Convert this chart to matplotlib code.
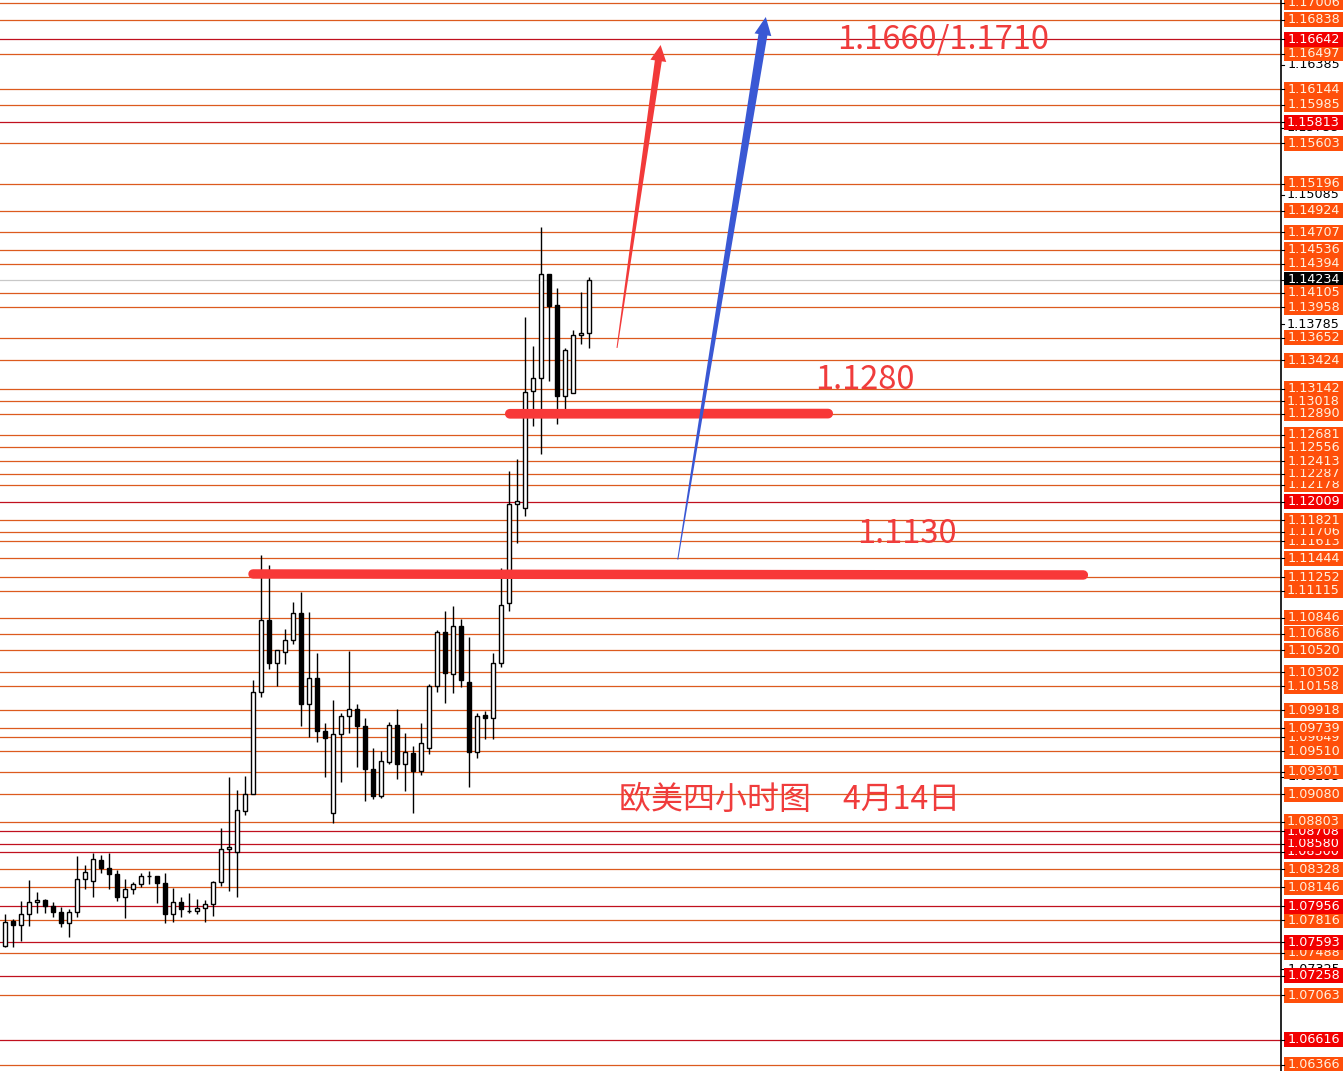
import numpy as np
import matplotlib
matplotlib.use("Agg")
import matplotlib.pyplot as plt
from matplotlib.patches import Rectangle, Polygon
from matplotlib.transforms import IdentityTransform

plt.rcParams['font.family'] = ['Noto Sans CJK SC', 'DejaVu Sans']

# ---------------- data (EURUSD 4H candles) ----------------
opens = [1.0756,1.0781,1.0777,1.0788,1.0800,1.0802,1.0796,1.0790,1.0779,1.0790,
         1.0823,1.0821,1.0842,1.0834,1.0828,1.0805,1.0813,1.0818,1.0826,1.0826,
         1.0819,1.0788,1.0800,1.0791,1.0791,1.0794,1.0798,1.0820,1.0853,1.0850,
         1.0891,1.0908,1.1010,1.1082,1.1039,1.1050,1.1062,1.1089,1.0998,1.1024,
         1.0971,1.0889,1.0968,1.0986,1.0993,1.0976,1.0933,1.0906,1.0940,1.0977,
         1.0938,1.0949,1.0931,1.0954,1.1016,1.1070,1.1028,1.1076,1.1020,1.0950,
         1.0987,1.0984,1.1039,1.1099,1.1199,1.1195,1.1312,1.1325,1.1429,1.1398,
         1.1307,1.1310,1.1368,1.1370]
highs = [1.0788,1.0783,1.0801,1.0822,1.0810,1.0803,1.0800,1.0795,1.0793,1.0846,
         1.0837,1.0849,1.0847,1.0849,1.0832,1.0823,1.0820,1.0829,1.0831,1.0826,
         1.0829,1.0814,1.0805,1.0809,1.0803,1.0802,1.0821,1.0874,1.0925,1.0912,
         1.0926,1.1022,1.1148,1.1137,1.1052,1.1073,1.1100,1.1110,1.1090,1.1049,
         1.0979,1.1002,1.0989,1.1051,1.0998,1.0984,1.0954,1.0951,1.0980,1.0993,
         1.0969,1.0956,1.0979,1.1018,1.1072,1.1091,1.1096,1.1083,1.1065,1.0989,
         1.0991,1.1049,1.1134,1.1232,1.1244,1.1386,1.1357,1.1476,1.1429,1.1415,
         1.1355,1.1373,1.1411,1.1426]
lows = [1.0755,1.0755,1.0761,1.0776,1.0789,1.0789,1.0785,1.0775,1.0765,1.0785,
        1.0813,1.0805,1.0829,1.0813,1.0801,1.0784,1.0808,1.0815,1.0818,1.0799,
        1.0779,1.0780,1.0785,1.0789,1.0788,1.0780,1.0786,1.0816,1.0811,1.0805,
        1.0887,1.0908,1.1005,1.1033,1.1016,1.1038,1.1058,1.0976,1.0965,1.0960,
        1.0925,1.0879,1.0920,1.0969,1.0935,1.0901,1.0903,1.0904,1.0938,1.0923,
        1.0911,1.0889,1.0927,1.0948,1.1010,1.0999,1.1009,1.1015,1.0915,1.0944,
        1.0963,1.0963,1.1035,1.1091,1.1160,1.1187,1.1277,1.1249,1.1322,1.1279,
        1.1293,1.1310,1.1359,1.1355]
closes = [1.0780,1.0777,1.0788,1.0800,1.0802,1.0796,1.0790,1.0779,1.0790,1.0823,
          1.0830,1.0843,1.0834,1.0828,1.0805,1.0813,1.0818,1.0826,1.0826,1.0819,
          1.0788,1.0800,1.0793,1.0791,1.0794,1.0798,1.0820,1.0853,1.0855,1.0892,
          1.0908,1.1010,1.1082,1.1039,1.1052,1.1062,1.1089,1.0998,1.1024,1.0971,
          1.0964,1.0968,1.0986,1.0993,1.0976,1.0933,1.0906,1.0941,1.0977,1.0938,
          1.0950,1.0931,1.0959,1.1016,1.1070,1.1029,1.1076,1.1022,1.0950,1.0986,
          1.0984,1.1039,1.1097,1.1199,1.1202,1.1311,1.1325,1.1429,1.1397,1.1307,
          1.1353,1.1368,1.1370,1.1423]

# price levels on the right axis: 'o' orange, 'r' red, 'w' plain, 'k' current price
level_prices = [1.17006,1.16838,1.16642,1.16497,1.16385,1.16144,1.15985,1.15813,1.15755,1.15603,
                1.15196,1.15085,1.14924,1.14707,1.14536,1.14394,1.14234,1.14105,1.13958,1.13785,
                1.13652,1.13424,1.13142,1.13018,1.12890,1.12681,1.12556,1.12413,1.12287,1.12178,
                1.12009,1.11821,1.11706,1.11613,1.11444,1.11252,1.11115,1.10846,1.10686,1.10520,
                1.10302,1.10158,1.09918,1.09739,1.09649,1.09510,1.09301,1.09255,1.09080,1.08803,
                1.08708,1.08580,1.08500,1.08328,1.08146,1.07956,1.07816,1.07593,1.07488,1.07325,
                1.07258,1.07063,1.06616,1.06366]
level_kinds = ['o','o','r','o','w','o','o','r','w','o',
               'o','w','o','o','o','o','k','o','o','w',
               'o','o','o','o','o','o','o','o','o','o',
               'r','o','o','o','o','o','o','o','o','o',
               'o','o','o','o','o','o','o','w','o','o',
               'r','r','r','o','o','r','o','r','o','w',
               'r','o','r','o']

# hand-drawn annotations
support_levels = [1.1289, 1.1128]
support_labels = ["1.1280", "1.1130"]
target_label = "1.1660/1.1710"
title_text = "欧美四小时图\u30004月14日"

# ---------------- figure ----------------
W, H = 1343, 1071
fig = plt.figure(figsize=(W/100, H/100), dpi=100)
ax_right_px = 1281
ax = fig.add_axes([0, 0, ax_right_px/W, 1])
ymin, ymax = 1.06305, 1.17036
xmin, xmax = -0.625, 159.5
ax.set_ylim(ymin, ymax)
ax.set_xlim(xmin, xmax)
for s in ['top', 'left', 'bottom']:
    ax.spines[s].set_visible(False)
ax.spines['right'].set_color('black')
ax.spines['right'].set_linewidth(1.2)
ax.set_xticks([])
ax.set_yticks([])

ORANGE_LINE = '#dc5a1e'
RED_LINE = '#c0101e'
ORANGE_BG = '#ff4f0a'
RED_BG = '#f20000'

# horizontal level lines
for p, k in zip(level_prices, level_kinds):
    if k == 'o':
        ax.axhline(p, color=ORANGE_LINE, lw=0.9, zorder=1)
    elif k == 'r':
        ax.axhline(p, color=RED_LINE, lw=0.9, zorder=1)
    elif k == 'k':
        ax.axhline(p, color='#c8c8c8', lw=0.9, zorder=1)

# candles
x = np.arange(len(opens))
bw = 0.6
for i in range(len(opens)):
    o, h, l, c = opens[i], highs[i], lows[i], closes[i]
    ax.plot([x[i], x[i]], [l, h], color='black', lw=1.0, zorder=3,
            solid_capstyle='butt')
    bottom = min(o, c)
    height = max(abs(c - o), 0.00003)
    fc = 'white' if c >= o else 'black'
    ax.add_patch(Rectangle((x[i] - bw/2, bottom), bw, height, facecolor=fc,
                           edgecolor='black', lw=1.0, zorder=4))

# right-side price labels (drawn bottom to top so upper ones overlap)
trans = ax.get_yaxis_transform()
x0 = 1 + 3/ax_right_px
x1 = W/ax_right_px
box_h = 0.00150
order = np.argsort(level_prices)
for j in order:
    p, k = level_prices[j], level_kinds[j]
    if k == 'o':
        bg, tc = ORANGE_BG, '#fff2e0'
    elif k == 'r':
        bg, tc = RED_BG, '#ffffff'
    elif k == 'k':
        bg, tc = '#000000', '#ffffff'
    else:
        bg, tc = '#ffffff', '#000000'
    z = 5 if k in ('w', 'k') else 6
    ax.add_patch(Rectangle((x0, p - box_h/2), x1 - x0, box_h, transform=trans,
                           facecolor=bg, edgecolor='none', clip_on=False, zorder=z))
    ax.text((x0 + x1)/2, p, f"{p:.5f}", transform=trans, ha='center', va='center',
            fontsize=9.2, color=tc, family='DejaVu Sans', clip_on=False, zorder=z)
    ax.plot([1.0, 1.0 + 3/ax_right_px], [p, p], transform=trans, color='black',
            lw=0.8, clip_on=False, zorder=z)

# thick support lines
ax.plot([63.1, 102.9], [support_levels[0], support_levels[0] + 0.00002], color='#f83838',
        lw=7.0, solid_capstyle='round', zorder=7)
ax.plot([31.0, 134.8], [support_levels[1] + 0.00005, support_levels[1] - 0.00005],
        color='#f83838', lw=6.8, solid_capstyle='round', zorder=7)

# annotation texts
RED_TXT = '#f03c3c'
ax.text(107.5, 1.1323, support_labels[0], ha='center', va='center', fontsize=23.5,
        color=RED_TXT, zorder=8)
ax.text(112.75, 1.1169, support_labels[1], ha='center', va='center', fontsize=23.5,
        color=RED_TXT, zorder=8)
ax.text(117.25, 1.1664, target_label, ha='center', va='center', fontsize=23.5,
        color=RED_TXT, zorder=8)
ax.text(98.1, 1.0902, title_text, ha='center', va='center', fontsize=23,
        color=RED_TXT, zorder=8)

# tapered arrows (built in display space from data endpoints)
def tapered_arrow(tail, tip, wt, wn, wh, hl, color):
    t = ax.transData.transform(tail)
    h = ax.transData.transform(tip)
    d = h - t
    u = d / np.hypot(*d)
    n = np.array([-u[1], u[0]])
    neck = h - u*hl
    pts = [t + n*wt/2, neck + n*wn/2, neck + n*wh/2, h,
           neck - n*wh/2, neck - n*wn/2, t - n*wt/2]
    poly = Polygon(pts, closed=True, facecolor=color, edgecolor='none',
                   transform=IdentityTransform(), zorder=9)
    fig.add_artist(poly)

tapered_arrow((76.5, 1.1355), (81.95, 1.16585), 1.0, 7.0, 16.0, 16.0, '#f23a3a')
tapered_arrow((84.1, 1.1143), (95.1, 1.16866), 1.0, 9.0, 17.0, 18.0, '#3a58d4')

fig.savefig('out.png', dpi=100)
